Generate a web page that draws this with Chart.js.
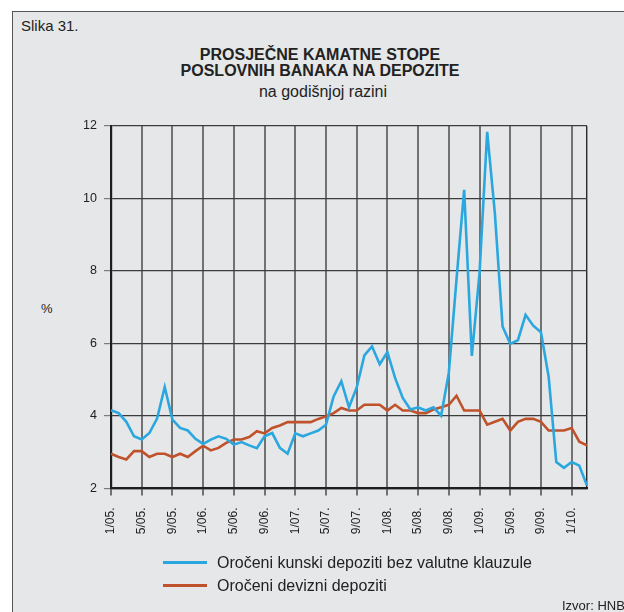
<!DOCTYPE html>
<html>
<head>
<meta charset="utf-8">
<script src="https://cdn.jsdelivr.net/npm/chart.js@4/dist/chart.umd.min.js"></script>
<style>
  html, body { margin:0; padding:0; background:#ffffff; width:624px; height:612px; overflow:hidden; }
  #frame { position:absolute; left:12px; top:11px; width:640px; height:640px; background:#e6e7e8; border:1px solid #555; box-sizing:border-box; }
  .t { position:absolute; font-family:"Liberation Sans", Arial, sans-serif; color:#222; white-space:nowrap; }
  #chart { position:absolute; left:0; top:0; }
  .lg { position:absolute; height:3px; }
</style>
</head>
<body>
<div id="frame"></div>
<div class="t" style="left:21px; top:18px; font-size:15px; line-height:15px;">Slika 31.</div>
<div class="t" style="left:20px; width:600px; top:46.5px; font-size:16px; line-height:16px; font-weight:bold; text-align:center;">PROSJEČNE KAMATNE STOPE</div>
<div class="t" style="left:20px; width:600px; top:62.5px; font-size:16px; line-height:16px; font-weight:bold; text-align:center;">POSLOVNIH BANAKA NA DEPOZITE</div>
<div class="t" style="left:23px; width:600px; top:83.5px; font-size:16px; line-height:16px; text-align:center;">na godišnjoj razini</div>
<div class="t" style="left:41px; top:302px; font-size:13px; line-height:13px;">%</div>
<canvas id="chart" width="624" height="612"></canvas>
<div class="lg" style="left:163px; top:561px; width:44px; background:#2aa7df;"></div>
<div class="t" style="left:217px; top:554.5px; font-size:16px; line-height:16px;">Oročeni kunski depoziti bez valutne klauzule</div>
<div class="lg" style="left:163px; top:584px; width:44px; background:#c0522b;"></div>
<div class="t" style="left:217px; top:577.5px; font-size:16px; line-height:16px;">Oročeni devizni depoziti</div>
<div class="t" style="left:562px; top:599px; font-size:13px; line-height:13px;">Izvor: HNB</div>
<script>
const categories = [
  "1/05.","2/05.","3/05.","4/05.","5/05.","6/05.","7/05.","8/05.","9/05.","10/05.","11/05.","12/05.",
  "1/06.","2/06.","3/06.","4/06.","5/06.","6/06.","7/06.","8/06.","9/06.","10/06.","11/06.","12/06.",
  "1/07.","2/07.","3/07.","4/07.","5/07.","6/07.","7/07.","8/07.","9/07.","10/07.","11/07.","12/07.",
  "1/08.","2/08.","3/08.","4/08.","5/08.","6/08.","7/08.","8/08.","9/08.","10/08.","11/08.","12/08.",
  "1/09.","2/09.","3/09.","4/09.","5/09.","6/09.","7/09.","8/09.","9/09.","10/09.","11/09.","12/09.",
  "1/10.","2/10.","3/10."
];
const kunskiDepoziti = [
  4.16,4.08,3.84,3.44,3.35,3.53,3.93,4.80,3.90,3.67,3.60,3.37,
  3.23,3.35,3.44,3.37,3.21,3.28,3.19,3.11,3.44,3.53,3.12,2.96,
  3.52,3.44,3.52,3.60,3.76,4.54,4.96,4.24,4.78,5.67,5.92,5.43,
  5.76,5.05,4.50,4.18,4.24,4.15,4.24,4.01,5.19,7.76,10.24,5.66,
  7.94,11.84,9.59,6.47,5.99,6.09,6.79,6.49,6.31,5.09,2.73,2.57,
  2.73,2.63,2.08
];
const devizniDepoziti = [
  2.96,2.87,2.80,3.03,3.03,2.87,2.96,2.96,2.87,2.96,2.87,3.03,
  3.18,3.05,3.12,3.26,3.35,3.35,3.42,3.58,3.52,3.67,3.74,3.83,
  3.83,3.83,3.83,3.92,3.99,4.08,4.22,4.15,4.15,4.31,4.31,4.31,
  4.15,4.31,4.15,4.15,4.08,4.08,4.18,4.24,4.31,4.56,4.15,4.15,
  4.15,3.76,3.84,3.92,3.60,3.84,3.92,3.92,3.84,3.60,3.60,3.60,
  3.67,3.29,3.19
];
const seriesNames = ["Oročeni kunski depoziti bez valutne klauzule", "Oročeni devizni depoziti"];
const yMin = 2, yMax = 12, yStep = 2;
const labelEvery = 4;

const lastIdx = categories.length - 1;

new Chart(document.getElementById('chart'), {
  type: 'line',
  data: {
    labels: categories,
    datasets: [
      { label: seriesNames[0], data: kunskiDepoziti, borderColor: '#2aa7df', borderWidth: 2.6, pointRadius: 0, tension: 0, fill: false },
      { label: seriesNames[1], data: devizniDepoziti, borderColor: '#c0522b', borderWidth: 2.6, pointRadius: 0, tension: 0, fill: false }
    ]
  },
  options: {
    responsive: false,
    animation: false,
    events: [],
    layout: { padding: { left: 71, right: 37, top: 126, bottom: 73.5 } },
    plugins: { legend: { display: false }, tooltip: { enabled: false }, title: { display: false } },
    scales: {
      x: {
        type: 'category',
        offset: false,
        afterFit: (s) => { s.height = 50; },
        border: { display: true, color: '#1e1e1e', width: 2.2 },
        grid: {
          display: true,
          drawOnChartArea: true,
          tickLength: 7,
          color: (c) => c.index === lastIdx ? '#2a2a2a' : (c.index % labelEvery === 0 ? '#727272' : 'rgba(0,0,0,0)'),
          lineWidth: (c) => c.index === lastIdx ? 1.4 : 2,
          tickColor: (c) => (c.index % labelEvery === 0 && c.index !== lastIdx) ? '#727272' : 'rgba(0,0,0,0)'
        },
        ticks: {
          autoSkip: false,
          minRotation: 90,
          maxRotation: 90,
          padding: 12,
          color: '#222',
          font: { family: '"Liberation Sans", Arial, sans-serif', size: 12 },
          callback: function(v, i) { return i % labelEvery === 0 ? categories[i] : ''; }
        }
      },
      y: {
        min: yMin, max: yMax,
        afterFit: (s) => { s.width = 40; },
        border: { display: true, color: '#1e1e1e', width: 2.2 },
        grid: { color: '#3c3c3c', lineWidth: 1.2, tickLength: 7, tickColor: '#7c7c7c' },
        ticks: {
          stepSize: yStep,
          padding: 7,
          color: '#222',
          font: { family: '"Liberation Sans", Arial, sans-serif', size: 12.5 }
        }
      }
    }
  }
});
</script>
</body>
</html>
